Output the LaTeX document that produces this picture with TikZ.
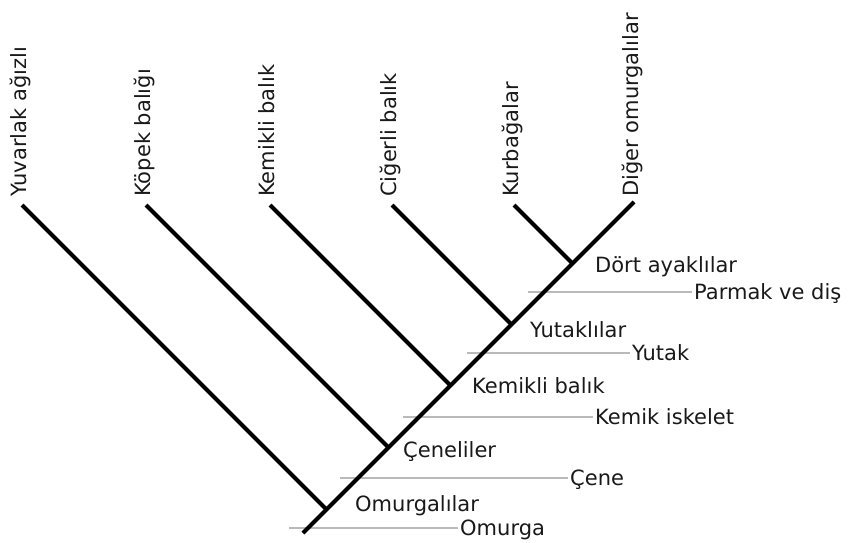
\documentclass[tikz,border=0pt]{standalone}
\usepackage{fontspec}
\setmainfont{DejaVu Sans}
\begin{document}
\begin{tikzpicture}[x=1pt, y=-1pt,
  branch/.style={line width=4pt},
  trait/.style={line width=1.3pt, color=black!27, shorten >=2pt},
  taxon/.style={font=\fontsize{21}{24}\selectfont, text=black!90, inner sep=0pt, anchor=base west}]
  \useasboundingbox (0,0) rectangle (848,542);

  %% tips and joints on the trunk (x+y=836)
  \foreach \tx [count=\i] in {22,146,270,392,514} {
    \coordinate (t\i) at (\tx,205);
    \coordinate (j\i) at ({(631+\tx)/2},{(1041-\tx)/2});
  }
  \coordinate (base) at (303,533);
  \coordinate (t6) at (634,202);

  %% traits
  \foreach \x/\y/\lx/\name/\txt in {289/528/460/omurga/Omurga, 340/478/570/cene/Çene,
      403/417/595/kemik/Kemik iskelet, 467/353/632/yutak/Yutak, 528/292/694/parmak/Parmak ve diş} {
    \coordinate (\name-s) at (\x,\y);
    \node[taxon] (\name) at (\lx,\y+7) {\txt};
    \draw[trait] (\name-s) -- (\name-s -| \name.west);
  }

  %% trunk and branches
  \draw[branch] (base) -- (t6);
  \foreach \i in {1,...,5}
    \draw[branch] (j\i) -- (t\i);

  %% taxa at the tips
  \foreach \tx/\name/\txt in {26/yuvarlak/Yuvarlak ağızlı, 150/kopek/Köpek balığı, 274/kemikli/Kemikli balık,
      396/cigerli/Ciğerli balık, 518/kurbaga/Kurbağalar, 638/diger/Diğer omurgalılar}
    \node[taxon, rotate=90] (\name) at (\tx,197) {\txt};

  %% clades
  \node[taxon] (omurgalilar) at (355,511) {Omurgalılar};
  \node[taxon] (ceneliler) at (403,457) {Çeneliler};
  \node[taxon] (kemiklibalik) at (472,393) {Kemikli balık};
  \node[taxon] (yutaklilar) at (530,337) {Yutaklılar};
  \node[taxon] (dortayaklilar) at (595,272) {Dört ayaklılar};
\end{tikzpicture}
\end{document}
